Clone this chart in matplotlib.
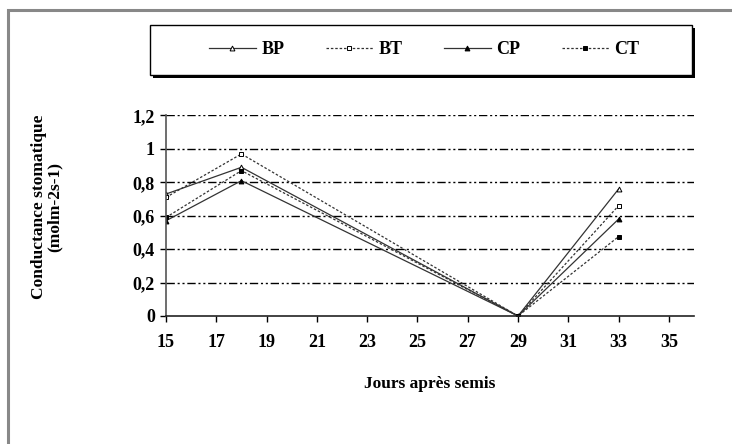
import matplotlib.pyplot as plt
from matplotlib.patches import Rectangle
from matplotlib.ticker import FuncFormatter

# jours apres semis
jours = [15, 18, 29, 33]
bp = [0.73, 0.89, 0.0, 0.76]
bt = [0.71, 0.97, 0.0, 0.66]
cp = [0.57, 0.81, 0.0, 0.58]
ct = [0.59, 0.87, 0.0, 0.475]

x_ticks = list(range(15, 37, 2))
y_ticks = [0, 0.2, 0.4, 0.6, 0.8, 1.0, 1.2]

plt.rcParams['font.family'] = ['Liberation Serif', 'DejaVu Serif']
plt.rcParams['font.weight'] = 'bold'

W, H = 732, 444
fig = plt.figure(figsize=(W / 100, H / 100), dpi=100)

# outer frame of the original chart
fig.patches.append(Rectangle((8 / W, -0.1), 1.2, 1.1 - 10 / H,
                             transform=fig.transFigure, fill=False,
                             edgecolor='#888888', linewidth=2.2))

# legend box with its shadow
fig.patches.append(Rectangle((153 / W, 1 - 78 / H), 542 / W, 50 / H,
                             transform=fig.transFigure, facecolor='black',
                             edgecolor='none', zorder=1))
fig.patches.append(Rectangle((150 / W, 1 - 75 / H), 542 / W, 50 / H,
                             transform=fig.transFigure, facecolor='white',
                             edgecolor='black', linewidth=1.0, zorder=2))

ax = fig.add_axes([166 / W, 1 - 316 / H, (694 - 166) / W, (316 - 115.5) / H])

style = dict(color='#333333', linewidth=0.9, markersize=3.5, markeredgecolor='black',
             markeredgewidth=0.7)
ax.plot(jours, bp, linestyle='-', marker='^', markerfacecolor='white', label='BP', **style)
ax.plot(jours, bt, linestyle=(0, (2, 1.5)), marker='s', markerfacecolor='white', label='BT', **style)
ax.plot(jours, cp, linestyle='-', marker='^', markerfacecolor='black', label='CP', **style)
ax.plot(jours, ct, linestyle=(0, (2, 1.5)), marker='s', markerfacecolor='black', label='CT', **style)

ax.set_xlim(15, 36)
ax.set_ylim(0, 1.2)
ax.set_xticks(x_ticks)
ax.set_yticks(y_ticks)
ax.yaxis.set_major_formatter(FuncFormatter(lambda v, p: ('%g' % round(v, 1)).replace('.', ',')))

for y in y_ticks[1:]:
    ax.axhline(y, color='black', linewidth=1.0, linestyle=(0, (6, 2, 1.5, 2, 1.5, 2)), zorder=0)

for side in ['top', 'right']:
    ax.spines[side].set_visible(False)
ax.spines['left'].set_color('#555555')
ax.spines['bottom'].set_color('#222222')
ax.spines['left'].set_linewidth(1.2)
ax.spines['bottom'].set_linewidth(1.2)
ax.tick_params(axis='both', direction='out', length=4, width=1, labelsize=13, pad=4)
ax.tick_params(axis='x', pad=9)

for lab in ax.get_xticklabels() + ax.get_yticklabels():
    lab.set_fontweight('bold')

ax.set_xlabel('Jours après semis', fontsize=12.5, fontweight='bold', labelpad=18)
fig.text(47 / W, 1 - 207 / H, 'Conductance stomatique\n(molm-2s-1)',
         rotation=90, ha='center', va='center', fontsize=12.5, fontweight='bold',
         linespacing=0.95)

leg = fig.legend(loc='center', bbox_to_anchor=(424 / W, 1 - 50 / H),
                 ncol=4, frameon=False, handlelength=2.6, handletextpad=0.3,
                 columnspacing=2.3, prop={'weight': 'bold', 'size': 13})
leg.set_zorder(3)

fig.savefig('out.png', dpi=100)
